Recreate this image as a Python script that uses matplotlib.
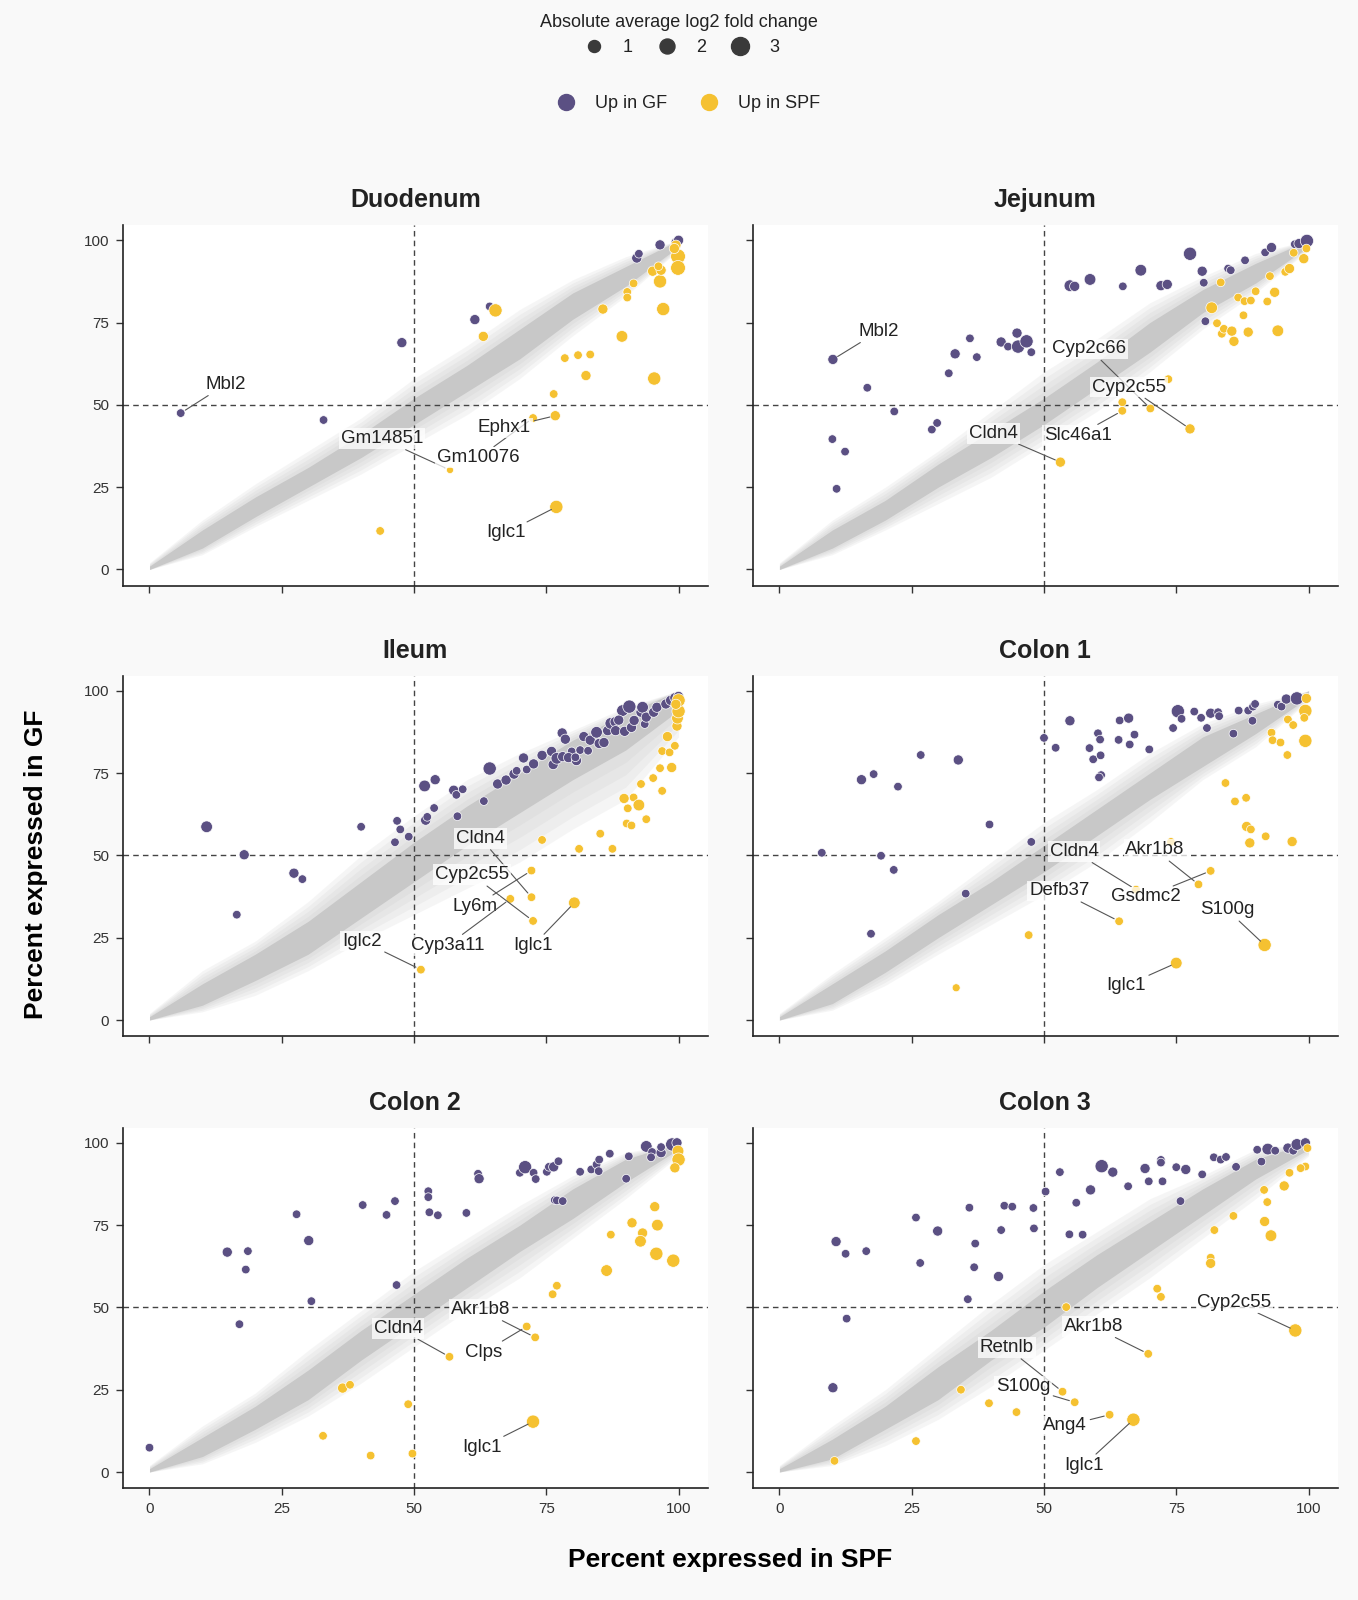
import numpy as np
import matplotlib
matplotlib.use("Agg")
import matplotlib.pyplot as plt
from matplotlib.lines import Line2D

plt.rcParams["font.family"] = ["Liberation Sans", "DejaVu Sans"]

# ============================================================
# Data: (percent SPF, percent GF, |avg log2FC|)
# ============================================================
panels = ["Duodenum", "Jejunum", "Ileum", "Colon 1", "Colon 2", "Colon 3"]

duodenum_gf = [(5.9, 47.5, 1), (32.9, 45.4, 1), (47.7, 68.9, 1.5), (61.5, 75.9, 1.5),
               (64.3, 79.9, 1), (92.1, 94.6, 1.5), (92.5, 95.9, 1), (96.5, 98.6, 1.5),
               (99.4, 99.4, 1), (100, 100, 1.5)]
duodenum_spf = [(65.4, 78.7, 2.5), (63.1, 70.8, 1.5), (76.4, 53.3, 1), (76.7, 46.7, 1.5),
                (72.5, 46.0, 1), (56.8, 30.2, 0.5), (76.9, 19.0, 2.5), (43.6, 11.7, 1),
                (78.5, 64.2, 1), (81.0, 65.1, 1), (83.3, 65.3, 1), (82.5, 58.9, 1.5),
                (89.3, 70.8, 2), (95.4, 58.0, 2.5), (85.7, 79.1, 1.5), (97.1, 79.1, 2.5),
                (90.3, 84.3, 1), (90.3, 82.6, 1), (91.5, 86.9, 1), (95.1, 90.6, 1.5),
                (96.5, 87.5, 2.5), (96.7, 90.9, 1.5), (96.2, 92.1, 1), (99.9, 95.1, 3),
                (99.9, 91.6, 3), (99.5, 98.5, 1.5), (99.2, 97.5, 1.5)]

jejunum_gf = [(10.1, 63.8, 1.5), (16.6, 55.2, 1), (21.7, 48.0, 1), (10.0, 39.6, 1),
              (12.4, 35.8, 1), (10.8, 24.5, 1), (28.8, 42.5, 1), (29.8, 44.5, 1),
              (32.0, 59.6, 1), (33.2, 65.5, 1.5), (36.0, 70.2, 1), (37.3, 64.5, 1),
              (41.9, 69.1, 1.5), (43.2, 67.7, 1), (44.9, 71.8, 1.5), (45.1, 67.7, 2.5),
              (46.7, 69.3, 2.5), (47.6, 66.0, 1), (54.9, 86.2, 2), (55.8, 86.0, 1.5),
              (58.7, 88.1, 2), (64.9, 86.0, 1), (68.3, 90.9, 2), (72.1, 86.2, 1.5),
              (73.3, 86.6, 1.5), (77.6, 95.9, 2.5), (79.9, 90.6, 1.5), (80.2, 87.1, 1),
              (84.8, 91.4, 1), (85.3, 90.9, 1), (88.0, 93.9, 1), (80.5, 75.4, 1),
              (91.8, 96.3, 1), (93.0, 97.8, 1.5), (97.4, 98.8, 1), (98.2, 99.0, 1.5),
              (99.7, 99.8, 2.5)]
jejunum_spf = [(53.1, 32.6, 1.5), (64.8, 48.2, 1), (64.8, 50.8, 1), (70.1, 48.9, 1),
               (77.6, 42.7, 1.5), (73.5, 57.8, 1), (83.4, 87.2, 1), (81.7, 79.5, 2),
               (82.7, 74.8, 1), (83.6, 71.6, 1), (84.0, 73.1, 1), (85.5, 72.4, 1.5),
               (85.9, 69.3, 1.5), (86.7, 82.6, 1), (87.9, 81.5, 1), (89.1, 81.7, 1),
               (87.7, 77.2, 1), (88.6, 72.1, 1.5), (90.0, 84.5, 1), (92.2, 81.4, 1),
               (92.7, 89.1, 1), (93.6, 84.2, 1.5), (94.2, 72.5, 2), (95.6, 90.4, 1),
               (96.4, 91.4, 1.5), (97.2, 96.2, 1), (99.1, 94.4, 1.5), (99.6, 97.5, 1)]

ileum_gf = [(10.8, 58.7, 2), (17.9, 50.2, 1.5), (27.3, 44.6, 1.5), (28.9, 42.8, 1),
            (16.5, 32.0, 1), (40.0, 58.7, 1), (46.4, 54.0, 1), (46.8, 60.5, 1),
            (47.4, 57.9, 1), (49.0, 55.7, 1), (52.0, 71.1, 2), (54.0, 73.0, 1.5),
            (52.2, 60.7, 1.5), (52.5, 61.7, 1), (53.8, 64.4, 1), (57.5, 69.8, 1.5),
            (58.0, 68.4, 1), (59.2, 70.1, 1), (58.2, 61.9, 1), (63.2, 66.5, 1),
            (64.3, 76.4, 2.5), (65.8, 71.7, 1.5), (67.4, 72.9, 1.5), (68.9, 74.7, 1.5),
            (69.4, 75.7, 1), (70.7, 79.6, 1.5), (71.3, 76.1, 1), (72.6, 77.8, 1.5),
            (74.2, 80.4, 1.5), (76.0, 81.6, 1.5), (76.3, 77.6, 1.5), (77.0, 79.5, 2),
            (78.0, 87.2, 1.5), (78.6, 85.3, 1.5), (78.1, 80.0, 1.5), (79.8, 81.6, 1),
            (79.2, 79.7, 1.5), (80.7, 78.8, 1.5), (81.4, 82.0, 1), (80.5, 79.8, 1),
            (82.1, 86.1, 1.5), (82.9, 81.8, 1), (83.3, 85.0, 1.5), (84.5, 87.4, 2),
            (85.0, 84.0, 1.5), (85.9, 84.3, 1.5), (86.6, 87.9, 1.5), (87.2, 90.1, 2),
            (88.0, 90.6, 1.5), (88.1, 87.9, 1.5), (89.8, 87.7, 1.5), (89.4, 94.0, 2),
            (88.7, 91.1, 1.5), (90.7, 95.2, 2.5), (91.1, 88.9, 1.5), (91.6, 91.0, 1.5),
            (92.9, 93.5, 1.5), (93.2, 95.0, 2), (93.6, 89.9, 1), (93.9, 92.0, 1.5),
            (95.3, 93.5, 1.5), (95.9, 95.0, 1.5), (97.6, 96.0, 1.5), (98.5, 97.1, 1.5),
            (99.3, 97.9, 1.5), (100, 98.3, 1.5)]
ileum_spf = [(51.3, 15.3, 1), (72.2, 45.4, 1), (72.2, 37.3, 1), (68.2, 36.8, 1),
             (72.5, 30.1, 1), (80.3, 35.6, 2), (74.2, 54.7, 1), (81.2, 52.0, 1),
             (85.2, 56.6, 1), (87.5, 52.0, 1), (90.2, 59.7, 1), (91.1, 59.1, 1),
             (93.9, 61.0, 1), (89.7, 67.3, 1.5), (91.5, 67.6, 1), (90.4, 64.3, 1),
             (92.5, 65.3, 2), (95.2, 73.5, 1), (92.9, 71.7, 1), (96.9, 69.6, 1),
             (96.5, 76.5, 1), (98.7, 76.7, 1.5), (96.9, 81.7, 1), (98.3, 81.3, 1),
             (99.3, 83.3, 1), (97.9, 86.1, 1.5), (99.7, 89.3, 1.5), (99.8, 91.7, 2),
             (100, 93.8, 2.5), (100, 97.1, 2.5), (99.5, 95.9, 1.5)]

colon1_gf = [(8.0, 50.8, 1), (19.2, 49.9, 1), (21.6, 45.6, 1), (15.5, 73.0, 1.5),
             (17.8, 74.7, 1), (22.4, 70.9, 1), (26.7, 80.5, 1), (33.8, 79.0, 1.5),
             (39.7, 59.4, 1), (47.6, 54.1, 1), (35.2, 38.4, 1), (17.3, 26.2, 1),
             (50.0, 85.7, 1), (52.2, 82.7, 1), (54.9, 90.9, 1.5), (58.6, 82.6, 1),
             (60.2, 87.1, 1), (60.6, 85.2, 1), (59.3, 79.2, 1), (60.7, 80.4, 1),
             (60.8, 74.4, 1), (60.4, 73.7, 1), (64.1, 85.1, 1), (64.3, 91.0, 1),
             (66.0, 91.7, 1.5), (66.2, 83.7, 1), (67.1, 86.7, 1), (69.9, 82.2, 1),
             (74.4, 88.7, 1), (75.3, 93.8, 2.5), (76.0, 91.5, 1), (78.4, 93.7, 1),
             (79.7, 91.8, 1), (80.8, 88.7, 1), (81.5, 93.2, 1.5), (82.9, 93.5, 1),
             (83.1, 92.3, 1), (85.8, 87.0, 1), (86.8, 94.0, 1), (88.6, 94.0, 1),
             (89.4, 90.9, 1), (89.5, 95.2, 1), (89.9, 96.0, 1), (94.2, 95.8, 1),
             (94.9, 95.2, 1), (95.8, 97.5, 1.5), (97.8, 97.7, 2.5)]
colon1_spf = [(99.6, 97.7, 1.5), (99.4, 93.9, 2.5), (99.2, 91.8, 1), (96.1, 91.3, 1),
              (97.1, 89.6, 1), (93.0, 87.3, 1), (93.2, 85.0, 1), (94.7, 84.3, 1),
              (99.4, 84.8, 2.5), (96.0, 80.5, 1), (84.3, 72.0, 1), (86.1, 66.4, 1),
              (88.2, 67.5, 1), (88.3, 58.8, 1.5), (89.1, 57.9, 1), (91.9, 55.8, 1),
              (88.9, 53.8, 1.5), (96.9, 54.2, 1.5), (74.0, 54.1, 1), (81.5, 45.3, 1),
              (79.2, 41.2, 1), (67.4, 39.6, 1), (64.2, 30.0, 1), (47.1, 25.8, 1),
              (33.4, 9.8, 0.8), (75.0, 17.3, 2), (91.7, 22.8, 2.5)]

colon2_gf = [(0.0, 7.4, 1), (17.0, 44.9, 1), (14.7, 66.8, 1.5), (18.6, 67.1, 1),
             (18.2, 61.5, 1), (30.1, 70.3, 1.5), (27.8, 78.3, 1), (30.6, 51.9, 1),
             (40.3, 81.1, 1), (44.8, 78.1, 1), (46.4, 82.3, 1), (46.7, 56.8, 1),
             (52.7, 85.3, 1), (52.7, 83.5, 1), (52.9, 78.9, 1), (54.5, 78.0, 1),
             (59.9, 78.7, 1), (62.1, 90.6, 1), (62.3, 89.1, 1.5), (70.0, 90.9, 1),
             (71.0, 92.6, 2.5), (72.6, 90.9, 1), (73.0, 89.0, 1), (75.1, 91.2, 1),
             (75.5, 92.7, 1), (76.4, 92.7, 1.5), (77.3, 94.4, 1), (76.6, 82.6, 1),
             (77.0, 82.5, 1), (78.1, 82.3, 1), (81.4, 91.2, 1), (83.5, 91.9, 1),
             (84.5, 93.4, 1), (85.0, 94.9, 1), (84.9, 91.4, 1), (87.0, 96.7, 1),
             (90.1, 89.1, 1), (90.6, 95.9, 1), (93.9, 98.9, 2), (95.0, 97.2, 1),
             (94.8, 95.6, 1), (96.7, 97.0, 1.5), (96.7, 98.7, 1), (98.8, 99.5, 2.5),
             (99.7, 100, 1.5)]
colon2_spf = [(99.9, 97.5, 2), (100, 94.9, 2.5), (99.3, 92.4, 1.5), (95.5, 80.6, 1.5),
              (96.0, 75.0, 2), (91.2, 75.7, 1.5), (93.2, 72.6, 1.5), (87.2, 72.1, 1),
              (92.8, 70.1, 2), (95.8, 66.3, 2.5), (99.0, 64.2, 2.5), (86.4, 61.2, 2),
              (77.0, 56.6, 1), (76.2, 54.0, 1), (71.3, 44.2, 1), (72.9, 40.9, 1),
              (56.7, 35.0, 1), (36.5, 25.5, 1.5), (37.9, 26.5, 1), (48.9, 20.6, 1),
              (32.8, 11.0, 1), (41.8, 5.0, 1), (49.7, 5.6, 1), (72.5, 15.3, 2.5)]

colon3_gf = [(10.1, 25.6, 1.5), (12.7, 46.6, 1), (10.7, 70.0, 1.5), (12.5, 66.3, 1),
             (16.4, 67.1, 1), (25.8, 77.3, 1), (29.9, 73.2, 1.5), (26.6, 63.5, 1),
             (35.9, 80.3, 1), (37.0, 69.4, 1), (36.8, 62.2, 1), (35.6, 52.5, 1),
             (41.4, 59.4, 1.5), (41.9, 73.5, 1), (42.5, 80.9, 1), (44.0, 80.6, 1),
             (48.0, 80.2, 1), (48.1, 74.0, 1), (50.3, 85.2, 1), (53.0, 91.1, 1),
             (54.8, 72.2, 1), (56.1, 81.8, 1), (57.3, 72.1, 1), (58.8, 85.7, 1.5),
             (60.9, 92.9, 2.5), (63.0, 91.1, 1.5), (65.9, 86.8, 1), (69.1, 92.2, 1.5),
             (69.8, 88.3, 1), (72.1, 94.8, 1), (72.1, 94.0, 1), (72.4, 88.3, 1),
             (75.0, 92.6, 1), (76.8, 91.9, 1.5), (79.9, 90.4, 1), (75.8, 82.3, 1),
             (82.1, 95.6, 1), (83.4, 94.9, 1), (84.4, 95.7, 1), (86.3, 92.7, 1),
             (90.3, 97.9, 1), (91.1, 94.3, 1), (92.3, 98.1, 2), (93.7, 97.6, 1),
             (96.1, 98.4, 1.5), (97.1, 97.6, 1), (97.8, 99.5, 2), (99.4, 100, 1.5)]
colon3_spf = [(99.8, 98.4, 1), (99.4, 92.8, 1), (98.5, 92.3, 1), (96.4, 90.9, 1),
              (95.4, 86.9, 1.5), (91.6, 85.7, 1), (92.2, 82.0, 1), (85.8, 77.8, 1),
              (91.7, 76.1, 1.5), (92.9, 71.8, 2), (82.2, 73.5, 1), (81.5, 65.1, 1),
              (81.5, 63.4, 1.5), (71.4, 55.7, 1), (72.1, 53.2, 1), (54.2, 50.1, 1),
              (97.5, 43.0, 2.5), (69.7, 35.9, 1), (53.5, 24.4, 1), (55.8, 21.2, 1),
              (62.4, 17.4, 1), (66.9, 15.9, 2.5), (34.3, 25.0, 1), (39.6, 20.9, 1),
              (44.8, 18.2, 1), (25.8, 9.4, 1), (10.4, 3.4, 1)]

# background genes: envelope of the grey cloud (dense core / sparse outer)
cloud_x = [0, 10, 20, 30, 40, 50, 60, 70, 80, 90, 100]
cloud = {
    "Duodenum": dict(core_lo=[0, 6.5, 16, 25, 34, 44, 54, 64, 76, 86, 98],
                     core_hi=[1, 12, 22, 31, 41, 52, 62, 73, 84, 92, 100],
                     outer_lo=[0, 4.5, 13, 21, 29, 38, 47, 58, 71, 83, 97],
                     outer_hi=[2, 15, 26, 36, 46, 58, 68, 79, 88, 95, 100]),
    "Jejunum": dict(core_lo=[0, 6.5, 15, 25, 34, 44, 55, 66, 78, 87, 98],
                    core_hi=[1, 12, 21, 32, 42, 52, 63, 75, 85, 93, 100],
                    outer_lo=[0, 4.5, 12, 20, 28, 38, 48, 60, 73, 84, 97],
                    outer_hi=[2, 15, 25, 36, 48, 60, 70, 81, 89, 96, 100]),
    "Ileum": dict(core_lo=[0, 4.5, 12, 20, 31, 42, 53, 63, 73, 82, 94],
                  core_hi=[1, 11, 20, 30, 42, 54, 65, 75, 85, 93, 100],
                  outer_lo=[0, 2.5, 7.5, 15, 24, 32, 40, 48, 58, 67, 86],
                  outer_hi=[2, 15, 24, 36, 50, 62, 73, 81, 88, 95, 100]),
    "Colon 1": dict(core_lo=[0, 5, 14.5, 25, 35, 45, 56, 67, 77, 87, 98],
                    core_hi=[1, 11, 21, 32, 42, 53, 64, 75, 86, 93, 100],
                    outer_lo=[0, 3, 10.5, 20, 29, 38, 48, 60, 73, 83, 97],
                    outer_hi=[2, 14, 25, 36, 48, 60, 70, 81, 90, 96, 100]),
    "Colon 2": dict(core_lo=[0, 4.7, 13, 22, 34, 45, 56, 67, 77, 88, 98],
                    core_hi=[1, 10.5, 20, 31, 43, 54, 65, 75, 86, 95, 100],
                    outer_lo=[0, 2.5, 9, 17, 27, 38, 49, 59, 71, 83, 96],
                    outer_hi=[2, 14, 24, 37, 49, 61, 71, 81, 90, 97, 100]),
    "Colon 3": dict(core_lo=[0, 4, 13, 22, 34, 44, 56, 67, 78, 89, 98],
                    core_hi=[1, 10, 20, 32, 43, 55, 66, 76, 86, 95, 100],
                    outer_lo=[0, 2, 8, 16, 26, 37, 48, 59, 71, 83, 96],
                    outer_hi=[2, 14, 25, 38, 51, 63, 73, 83, 90, 98, 100]),
}

# labelled genes: (gene, point x, point y, label x, label y)
labels = {
    "Duodenum": [("Mbl2", 5.9, 47.5, 14.4, 56.2), ("Gm14851", 56.8, 30.2, 43.9, 39.7),
                 ("Gm10076", 72.5, 46.0, 62.2, 33.9), ("Ephx1", 76.7, 46.7, 67.1, 43.0),
                 ("Iglc1", 76.9, 19.0, 67.3, 11.1)],
    "Jejunum": [("Mbl2", 10.1, 63.8, 18.7, 72.3), ("Cyp2c66", 70.1, 48.9, 58.6, 67.0),
                ("Cyp2c55", 77.6, 42.7, 66.0, 55.4), ("Slc46a1", 64.8, 48.2, 56.4, 40.7),
                ("Cldn4", 53.1, 32.6, 40.4, 41.4)],
    "Ileum": [("Cldn4", 72.2, 37.3, 62.6, 55.2), ("Cyp2c55", 72.5, 30.1, 61.0, 44.1),
              ("Ly6m", 72.2, 45.4, 61.6, 34.6), ("Cyp3a11", 68.2, 36.8, 56.3, 22.6),
              ("Iglc1", 80.3, 35.6, 72.5, 22.6), ("Iglc2", 51.3, 15.3, 40.2, 24.0)],
    "Colon 1": [("Cldn4", 67.4, 39.6, 55.7, 51.2), ("Akr1b8", 79.2, 41.2, 71.0, 51.7),
                ("Gsdmc2", 81.5, 45.3, 69.3, 37.4), ("Defb37", 64.2, 30.0, 52.9, 39.2),
                ("S100g", 91.7, 22.8, 84.6, 33.5), ("Iglc1", 75.0, 17.3, 65.5, 10.5)],
    "Colon 2": [("Cldn4", 56.7, 35.0, 47.0, 43.7), ("Akr1b8", 72.9, 40.9, 62.6, 49.3),
                ("Clps", 71.3, 44.2, 63.2, 36.4), ("Iglc1", 72.5, 15.3, 62.8, 7.5)],
    "Colon 3": [("Cyp2c55", 97.5, 43.0, 86.0, 51.6), ("Akr1b8", 69.7, 35.9, 59.3, 44.2),
                ("Retnlb", 53.5, 24.4, 43.0, 37.8), ("S100g", 55.8, 21.2, 46.0, 25.9),
                ("Ang4", 62.4, 17.4, 54.0, 14.0), ("Iglc1", 66.9, 15.9, 57.5, 2.0)],
}

points = {
    "Duodenum": (duodenum_gf, duodenum_spf),
    "Jejunum": (jejunum_gf, jejunum_spf),
    "Ileum": (ileum_gf, ileum_spf),
    "Colon 1": (colon1_gf, colon1_spf),
    "Colon 2": (colon2_gf, colon2_spf),
    "Colon 3": (colon3_gf, colon3_spf),
}

legend_lfc = [1, 2, 3]

GF_COLOR = "#5b5083"
SPF_COLOR = "#f5c131"
CLOUD_COLOR = "#b8b8b8"
TEXT_COLOR = "#222222"


def lfc_to_s(lfc):
    """|log2FC| -> scatter area (pt^2)."""
    d_px = 5.5 + 3.1 * np.asarray(lfc, dtype=float)
    return (d_px * 0.72) ** 2


def draw_cloud(ax, env):
    """Grey background genes: soft band fading from the dense core outwards."""
    o_lo, o_hi = np.array(env["outer_lo"]), np.array(env["outer_hi"])
    c_lo, c_hi = np.array(env["core_lo"]), np.array(env["core_hi"])
    for t in [0.0, 0.25, 0.5, 0.75]:
        ax.fill_between(cloud_x, o_lo + t * (c_lo - o_lo), o_hi + t * (c_hi - o_hi),
                        color=CLOUD_COLOR, alpha=0.13, lw=0, zorder=1)
    ax.fill_between(cloud_x, c_lo, c_hi, color=CLOUD_COLOR, alpha=0.6, lw=0, zorder=1.1)


def draw_panel(ax, name, show_x, show_y):
    draw_cloud(ax, cloud[name])

    ax.axvline(50, color="#444444", lw=1, ls=(0, (4, 3)), zorder=1.5)
    ax.axhline(50, color="#444444", lw=1, ls=(0, (4, 3)), zorder=1.5)

    gf, spf = points[name]
    for pts, col, z in [(gf, GF_COLOR, 3), (spf, SPF_COLOR, 3.1)]:
        x, y, lfc = zip(*pts)
        ax.scatter(x, y, s=lfc_to_s(lfc), color=col, edgecolor="white",
                   linewidth=0.5, zorder=z)

    for gene, px, py, tx, ty in labels[name]:
        ax.annotate(gene, xy=(px, py), xytext=(tx, ty), ha="center", va="center",
                    fontsize=13.5, color=TEXT_COLOR, zorder=5,
                    bbox=dict(boxstyle="square,pad=0.1", fc="white", ec="none", alpha=0.75),
                    arrowprops=dict(arrowstyle="-", color="#555555", lw=0.8,
                                    shrinkA=1, shrinkB=4))

    ax.set_xlim(-5, 105.5)
    ax.set_ylim(-5, 104.5)
    ax.set_xticks([0, 25, 50, 75, 100])
    ax.set_yticks([0, 25, 50, 75, 100])
    if not show_x:
        ax.set_xticklabels([])
    if not show_y:
        ax.set_yticklabels([])
    ax.tick_params(labelsize=11, length=5, width=1, color="#333333",
                   labelcolor="#333333", pad=5)
    for side in ["top", "right"]:
        ax.spines[side].set_visible(False)
    for side in ["left", "bottom"]:
        ax.spines[side].set_linewidth(1.2)
        ax.spines[side].set_color("#222222")
    ax.set_facecolor("white")
    ax.set_title(name, fontsize=18, fontweight="bold", color=TEXT_COLOR, pad=13)


# ============================================================
# Layout
# ============================================================
fig = plt.figure(figsize=(13.58, 16), dpi=100, facecolor="#f9f9f9")

col_x = [0.0906, 0.5545]
col_w = 0.4305
row_y = [0.6338, 0.3522, 0.0697]
row_h = 0.2253

for i, name in enumerate(panels):
    r, c = divmod(i, 2)
    ax = fig.add_axes([col_x[c], row_y[r], col_w, row_h])
    draw_panel(ax, name, show_x=(r == 2), show_y=(c == 0))

fig.text(0.538, 0.025, "Percent expressed in SPF", ha="center", va="center",
         fontsize=19, fontweight="bold", color="black")
fig.text(0.0265, 0.46, "Percent expressed in GF", ha="center", va="center",
         rotation=90, fontsize=19, fontweight="bold", color="black")

# size legend
fig.text(0.5, 0.986, "Absolute average log2 fold change", ha="center", va="center",
         fontsize=13, color=TEXT_COLOR)
size_handles = [Line2D([], [], ls="", marker="o", color="#3a3a3a",
                       markersize=(9 + 3 * v) * 0.72) for v in legend_lfc]
fig.legend(size_handles, [str(v) for v in legend_lfc], loc="center",
           bbox_to_anchor=(0.502, 0.970), ncol=3, frameon=False, fontsize=13,
           handlelength=1.0, handletextpad=1.1, columnspacing=1.4, borderpad=0,
           labelcolor=TEXT_COLOR)

# colour legend
color_handles = [Line2D([], [], ls="", marker="o", color=GF_COLOR, markersize=11.5),
                 Line2D([], [], ls="", marker="o", color=SPF_COLOR, markersize=11.5)]
fig.legend(color_handles, ["Up in GF", "Up in SPF"], loc="center",
           bbox_to_anchor=(0.507, 0.935), ncol=2, frameon=False, fontsize=13,
           handlelength=1.0, handletextpad=1.1, columnspacing=1.8, borderpad=0,
           labelcolor=TEXT_COLOR)

fig.savefig("out.png", dpi=100, facecolor=fig.get_facecolor())
